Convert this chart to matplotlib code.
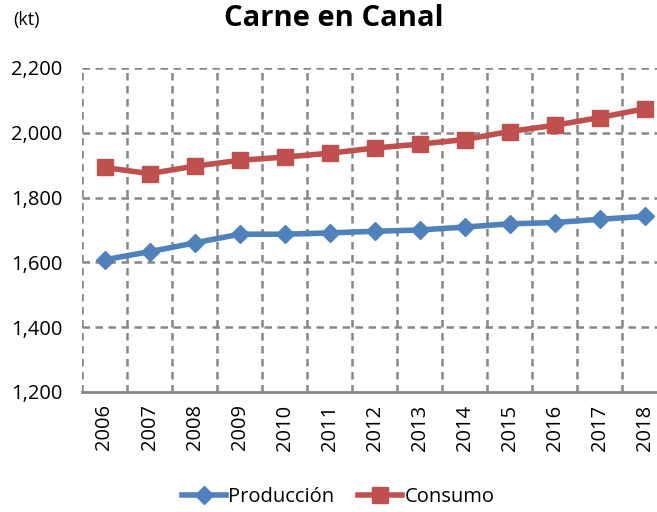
import numpy as np
import matplotlib.pyplot as plt

years = ['2006', '2007', '2008', '2009', '2010', '2011', '2012',
         '2013', '2014', '2015', '2016', '2017', '2018']
produccion = [1608, 1633, 1660, 1687, 1687, 1691, 1696, 1700, 1709, 1719, 1723, 1733, 1742]
consumo = [1893, 1874, 1897, 1915, 1925, 1937, 1953, 1965, 1979, 2004, 2023, 2047, 2074]
yticks = [1200, 1400, 1600, 1800, 2000, 2200]

plt.rcParams['font.family'] = ['Open Sans', 'DejaVu Sans']

fig = plt.figure(figsize=(6.57, 5.12), dpi=100)
# plot area runs past the right edge of the figure
ax = fig.add_axes([82 / 657, 1 - 392 / 512, 585 / 657, 324 / 512])

x = np.arange(len(years))
ax.plot(x, produccion, color='#4F81BD', lw=4, marker='D', ms=9.5, label='Producción')
ax.plot(x, consumo, color='#C0504D', lw=4, marker='s', ms=12, label='Consumo')

ax.set_xlim(-0.5, len(years) - 0.5)
ax.set_ylim(1200, 2200)
ax.set_yticks(yticks)
ax.set_yticklabels([f'{v:,}' for v in yticks], fontsize=14.5)
ax.set_xticks(x)
ax.set_xticklabels(years, rotation=90, fontsize=14.5)
ax.tick_params(axis='y', length=0, pad=14)
ax.tick_params(axis='x', length=0, pad=9)

grid_kw = dict(color='#868686', lw=1.8, ls=(0, (3, 2.2)), zorder=0)
for b in np.arange(-0.5, len(years), 1.0):
    ax.axvline(b, **grid_kw)
for v in yticks[1:]:
    ax.axhline(v, **grid_kw)

for s in ['top', 'right', 'left']:
    ax.spines[s].set_visible(False)
ax.spines['bottom'].set_color('#868686')
ax.spines['bottom'].set_linewidth(2)

fig.text(334 / 657, 1 - 18 / 512, 'Carne en Canal', ha='center', va='center',
         fontsize=21, fontweight='bold')
fig.text(27 / 657, 1 - 20 / 512, '(kt)', ha='center', va='center', fontsize=13)

fig.legend(loc='center', bbox_to_anchor=(338 / 657, 1 - 497 / 512), ncol=2,
           frameon=False, fontsize=14.5, handlelength=2.2, columnspacing=1.2,
           handletextpad=0.1)

fig.savefig('out.png', dpi=100)
